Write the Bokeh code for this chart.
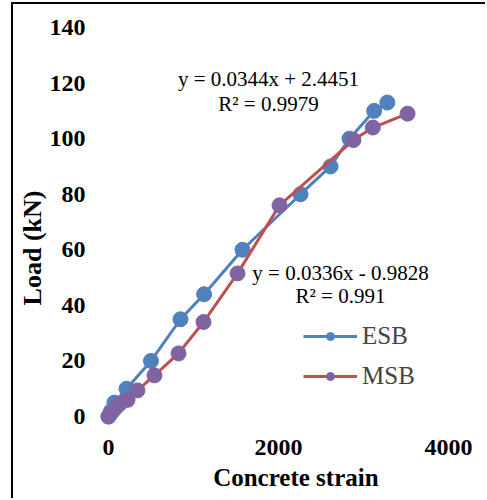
from bokeh.plotting import figure
from bokeh.models import Range1d, FixedTicker, Legend, LegendItem, Label
from bokeh.embed import file_html
from bokeh.resources import INLINE

# ---- data ----
esb_strain = [0, 30, 70, 212, 500, 847, 1125, 1576, 2259, 2612, 2835, 3125, 3280]
esb_load = [0, 2, 5, 10, 20, 35, 44, 60, 80, 90, 100, 110, 113]
msb_strain = [0, 40, 80, 130, 224, 341, 541, 824, 1118, 1518, 2012, 2882, 3110, 3518]
msb_load = [0, 1.5, 3, 4.5, 6, 9.4, 14.8, 22.7, 34, 51.5, 76, 99.5, 104, 109]
x_ticks = [0, 2000, 4000]
y_ticks = [0, 20, 40, 60, 80, 100, 120, 140]
esb_eq = ["y = 0.0344x + 2.4451", "R² = 0.9979"]
msb_eq = ["y = 0.0336x - 0.9828", "R² = 0.991"]

BLUE = "#4F81BD"
RED = "#C0504D"
PURPLE = "#8064A2"
SERIF = "Liberation Serif"
NBSP = "\u00a0"

p = figure(width=474, height=496, output_backend="svg", toolbar_location=None,
           x_range=Range1d(-188, 4376), y_range=Range1d(-4.68, 144.68),
           min_border_left=79, min_border_right=7, min_border_top=10, min_border_bottom=71)
# chart-area border (top and left visible in the reference)
p.margin = (2, 0, 0, 11)
p.styles = {"border-top": "2px solid black", "border-left": "2px solid black"}

p.grid.visible = False
p.outline_line_color = None
p.background_fill_color = "white"
p.border_fill_color = "white"

for ax in (p.xaxis[0], p.yaxis[0]):
    ax.axis_line_color = None
    ax.major_tick_line_color = None
    ax.minor_tick_line_color = None
    ax.major_label_text_font = SERIF
    ax.major_label_text_font_style = "bold"
    ax.major_label_text_font_size = "24px"
    ax.major_label_text_color = "black"
    ax.axis_label_text_font = SERIF
    ax.axis_label_text_font_style = "bold"
    ax.axis_label_text_color = "black"
p.xaxis.ticker = FixedTicker(ticks=x_ticks)
p.yaxis.ticker = FixedTicker(ticks=y_ticks)
p.xaxis.major_label_standoff = 4
p.yaxis.major_label_standoff = 1

# titles: no-break spaces shift the visible words as in the reference
p.yaxis.axis_label = "Load (kN)" + NBSP * 8
p.yaxis.axis_label_text_font_size = "26px"
p.yaxis.axis_label_standoff = 0
p.xaxis.axis_label = NBSP * 3 + "Concrete strain"
p.xaxis.axis_label_text_font_size = "25px"
p.xaxis.axis_label_standoff = 6

l1 = p.line(esb_strain, esb_load, line_color=BLUE, line_width=3)
s1 = p.scatter(esb_strain, esb_load, size=15, fill_color=BLUE, line_color=BLUE)
l2 = p.line(msb_strain, msb_load, line_color=RED, line_width=3)
s2 = p.scatter(msb_strain, msb_load, size=15, fill_color=PURPLE, line_color=PURPLE)

legend = Legend(items=[LegendItem(label="ESB", renderers=[l1, s1]),
                       LegendItem(label="MSB", renderers=[l2, s2])],
                location=(211, 33), margin=0, padding=0, spacing=0,
                glyph_width=54, glyph_height=20, label_height=40, label_standoff=5,
                label_text_font=SERIF, label_text_font_size="25px",
                border_line_color=None, background_fill_alpha=0)
p.add_layout(legend)

def add_label(x, y, text, size):
    p.add_layout(Label(x=x, y=y, text=text,
                       text_font=SERIF, text_font_size=size,
                       text_align="center", text_baseline="middle",
                       text_color="black"))

add_label(1882, 121.3, esb_eq[0], "21px")
add_label(1882, 112.3, esb_eq[1], "21px")
add_label(2729, 51.8, msb_eq[0], "21px")
add_label(2729, 43.2, msb_eq[1], "21px")

open("out.html", "w").write(file_html(p, INLINE))
